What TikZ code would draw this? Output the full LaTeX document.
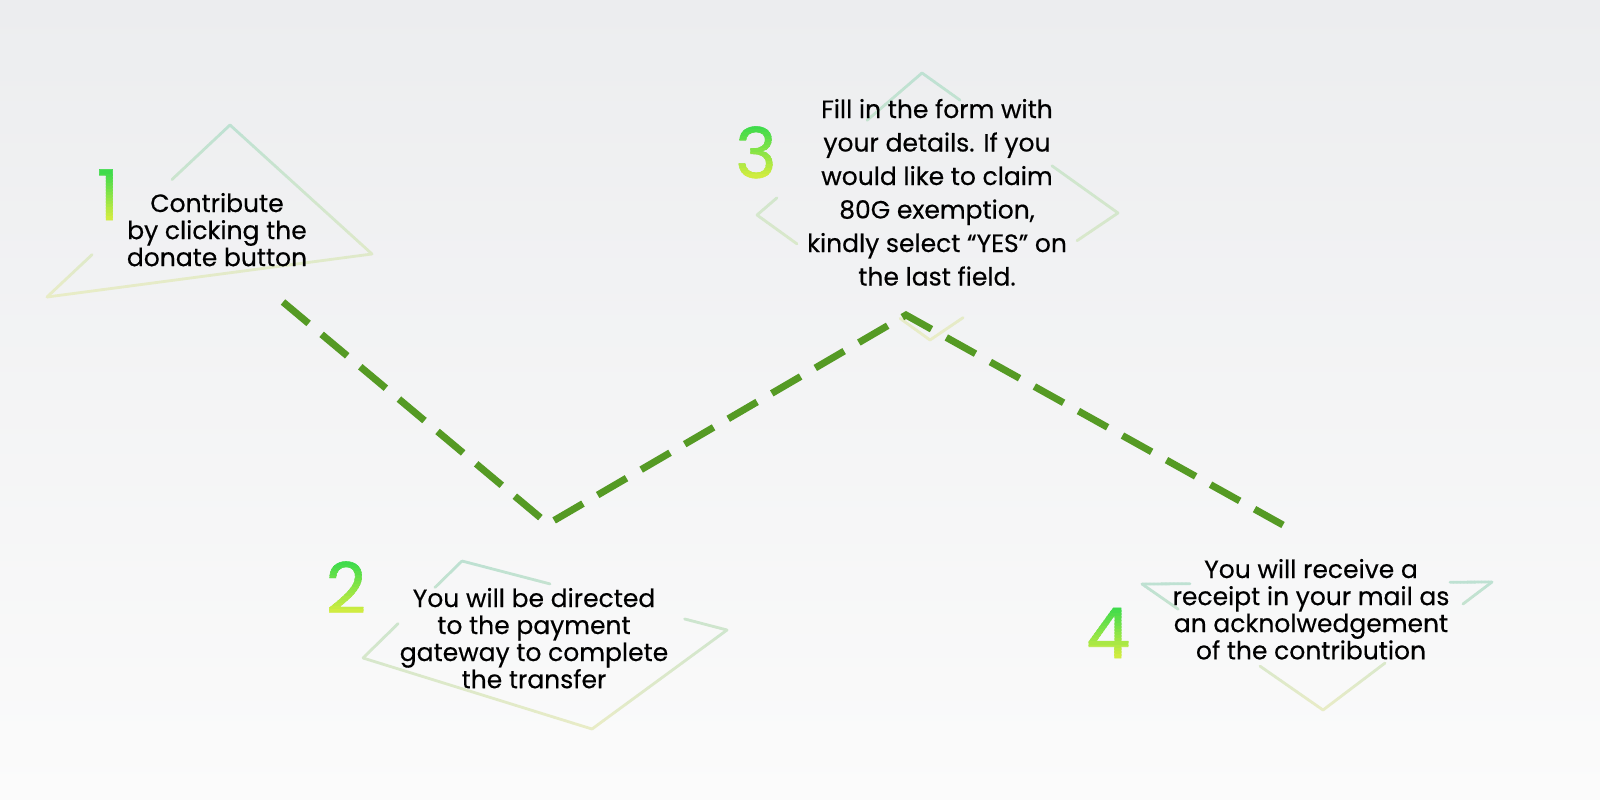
\documentclass[tikz,border=0pt]{standalone}
\usepackage{fontspec}
\setmainfont{Poppins}
\newfontfamily\bodyfont[FakeBold=0.4]{Poppins}
\newfontfamily\numfont[FakeBold=0.8]{Poppins}
\usetikzlibrary{calc}
\definecolor{bgt}{RGB}{236,237,239}
\definecolor{bgb}{RGB}{251,251,251}
\definecolor{tea}{RGB}{190,225,210}
\definecolor{ylw}{RGB}{233,236,198}
\definecolor{ngg}{RGB}{58,218,76}
\definecolor{ngy}{RGB}{214,237,64}
\definecolor{dgreen}{RGB}{85,154,36}
\tikzset{
  edge/.style={line width=2.8pt, line cap=round},
  dashln/.style={draw=dgreen, line width=7pt, dash pattern=on 33.4pt off 17pt, line join=miter},
  txt/.style={font=\bodyfont\fontsize{25}{27}\selectfont, inner sep=0pt, anchor=base, text=black},
  txtw/.style={font=\bodyfont\fontsize{25}{33.5}\selectfont, inner sep=0pt, anchor=base, text=black},
  numtxt/.style={font=\numfont\fontsize{70}{70}\selectfont, inner sep=0pt, anchor=base},
}
% gradient edge: x1 y1 x2 y2 t0 t1 ytop ybot
\newcommand\gedge[8]{%
  \foreach \k in {0,...,11}{%
    \pgfmathsetmacro\ta{#5+(#6-#5)*\k/12}%
    \pgfmathsetmacro\tb{#5+(#6-#5)*(\k+1)/12}%
    \pgfmathsetmacro\ym{#2+(#4-#2)*(\ta+\tb)/2}%
    \pgfmathtruncatemacro\f{max(0,min(100,(\ym-#7)/(#8-#7)*100))}%
    \draw[edge,draw=ylw!\f!tea] ($(#1,#2)!\ta!(#3,#4)$) -- ($(#1,#2)!\tb!(#3,#4)$);%
  }}
% gradient numeral: name, x, baseline y, digit, top y
\newcommand\gnum[5]{%
  \foreach \k in {0,...,15}{%
    \pgfmathsetmacro\ya{ifthenelse(\k==0,#5-15,#5+(#3-#5)*\k/16-0.4)}%
    \pgfmathsetmacro\yb{ifthenelse(\k==15,#3+15,#5+(#3-#5)*(\k+1)/16+0.4)}%
    \pgfmathtruncatemacro\f{(\k+0.5)/16*100}%
    \begin{scope}
      \clip (#2-80,\ya) rectangle (#2+80,\yb);
      \node[numtxt, text=ngy!\f!ngg] (#1-\k) at (#2,#3) {#4};
    \end{scope}}%
}
\begin{document}
\begin{tikzpicture}[x=1pt,y=-1pt]
\useasboundingbox (0,0) rectangle (1600,800);
\shade[top color=bgt, bottom color=bgb] (0,0) rectangle (1600,800);

% ---- shape 1 (triangle)
\gedge{230}{125}{372}{254}{0}{1}{125}{297}
\gedge{372}{254}{47}{297}{0}{1}{125}{297}
\gedge{47}{297}{230}{125}{0}{0.246}{125}{297}
\gedge{47}{297}{230}{125}{0.683}{1}{125}{297}

% ---- shape 2 (quadrilateral)
\gedge{462}{561}{727}{630}{0}{0.332}{561}{729}
\gedge{462}{561}{727}{630}{0.84}{1}{561}{729}
\gedge{727}{630}{592}{729}{0}{1}{561}{729}
\gedge{592}{729}{363}{658}{0}{1}{561}{729}
\gedge{363}{658}{462}{561}{0}{0.354}{561}{729}
\gedge{363}{658}{462}{561}{0.727}{1}{561}{729}

% ---- shape 3 (diamond)
\gedge{922}{73}{757}{215}{0}{0.333}{73}{340}
\gedge{922}{73}{757}{215}{0.879}{1}{73}{340}
\gedge{757}{215}{930}{340}{0}{0.231}{73}{340}
\gedge{757}{215}{930}{340}{0.827}{1}{73}{340}
\gedge{922}{73}{1118}{213}{0}{0.194}{73}{340}
\gedge{922}{73}{1118}{213}{0.663}{1}{73}{340}
\gedge{1118}{213}{930}{340}{0}{0.218}{73}{340}
\gedge{1118}{213}{930}{340}{0.824}{1}{73}{340}

% ---- shape 4 (inverted triangle)
\gedge{1142}{584}{1492}{582}{0}{0.137}{582}{710}
\gedge{1142}{584}{1492}{582}{0.88}{1}{582}{710}
\gedge{1492}{582}{1323}{710}{0}{0.172}{582}{710}
\gedge{1492}{582}{1323}{710}{0.633}{1}{582}{710}
\gedge{1323}{710}{1142}{584}{0}{0.348}{582}{710}
\gedge{1323}{710}{1142}{584}{0.8}{1}{582}{710}

% ---- dashed path
\coordinate (d1) at (283,302);
\coordinate (d2) at (548,524);
\coordinate (d3) at (906,315);
\coordinate (d4) at (1283,525);
\draw[dashln] (d1) -- (d2) -- (d3) -- (d4);

% ---- numerals
\gnum{n1}{108}{220}{1}{172}
\gnum{n2}{346}{613}{2}{563}
\gnum{n3}{756}{178}{3}{127}
\gnum{n4}{1108}{658}{4}{608}

% ---- texts
\node[txt] (t1) at (217,212) {\begin{tabular}[t]{@{}c@{}}Contribute\\by clicking the\\donate button\end{tabular}};
\node[txt] (t2) at (534,607) {\begin{tabular}[t]{@{}c@{}}You will be directed\\to the payment\\gateway to complete\\the transfer\end{tabular}};
\node[txtw] (t3) at (937,118) {\begin{tabular}[t]{@{}c@{}}Fill in the form with\\your details. If you\\would like to claim\\80G exemption,\\kindly select “YES” on\\the last field.\end{tabular}};
\node[txt] (t4) at (1311,578) {\begin{tabular}[t]{@{}c@{}}You will receive a\\receipt in your mail as\\an acknolwedgement\\of the contribution\end{tabular}};
\end{tikzpicture}
\end{document}
